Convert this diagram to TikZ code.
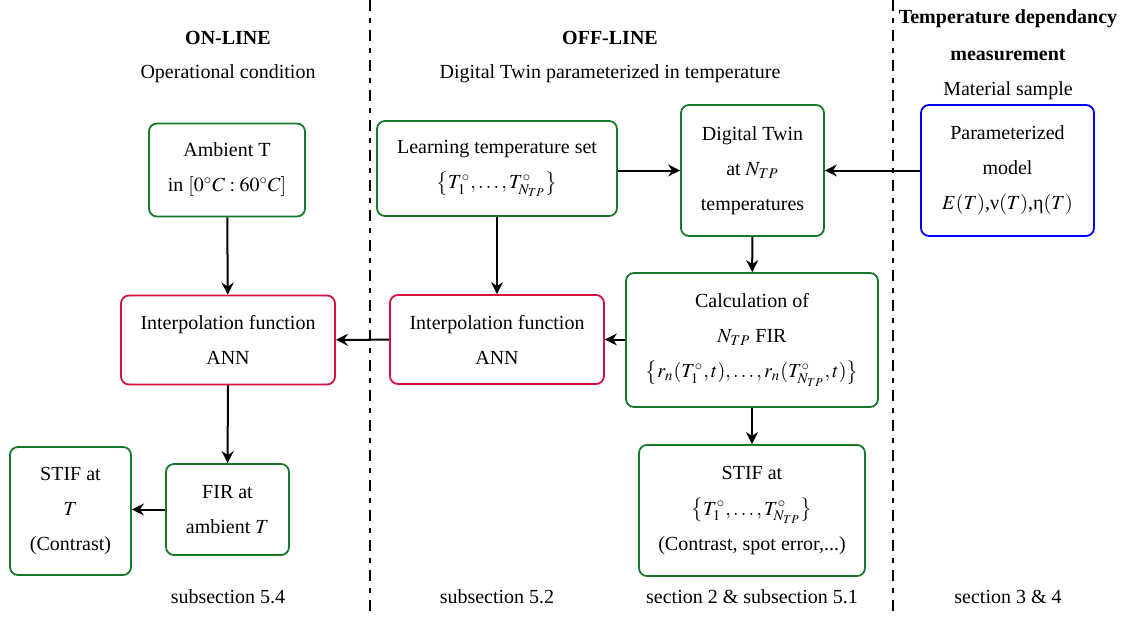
\documentclass[tikz,border=0pt]{standalone}
\usepackage{mathptmx}
\usepackage{fontspec}
\setmainfont{Liberation Serif}
\usepackage{tikz}
\usetikzlibrary{arrows.meta, positioning, calc}
\definecolor{boxgreen}{rgb}{0.08, 0.48, 0.16}
\definecolor{boxred}{rgb}{0.84, 0.06, 0.24}
\definecolor{boxblue}{rgb}{0, 0, 1}

\begin{document}
\begin{tikzpicture}[x=0.5pt, y=-0.5pt,
	every node/.style={font=\linespread{1.46}\selectfont, align=center},
	block/.style={draw, rounded corners=4pt, line width=0.9pt, inner sep=0pt},
	greenbox/.style={block, boxgreen, text=black},
	redbox/.style={block, boxred, text=black},
	bluebox/.style={block, boxblue, text=black},
	flow/.style={-{Stealth[length=6pt, width=6pt, inset=2pt]}, line width=1pt},
	sep/.style={line width=1pt, dash pattern=on 5.5pt off 3.5pt on 2.5pt off 3.5pt}]
	\useasboundingbox (0,0) rectangle (1124,617);
	
	% column separators
	\draw[sep] (370,0) -- (370,617);
	\draw[sep] (893,0) -- (893,617);
	
	% headers
	\node (hon) at (228,38) {\textbf{ON-LINE}};
	\node (hons) at (228,74) {Operational condition};
	\node (hoff) at (610,38) {\textbf{OFF-LINE}};
	\node (hoffs) at (610,74) {Digital Twin parameterized in temperature};
	\node (htd) at (1008,19) {\textbf{Temperature dependancy}};
	\node (htd2) at (1008,55) {\textbf{measurement}};
	\node (htds) at (1008,91) {Material sample};
	
	% on-line column
	\node[greenbox, minimum width=78pt, minimum height=46.5pt] (ambient) at (227,170) {Ambient T\\ in $[0^{\circ}C:60^{\circ}C]$};
	\node[redbox, minimum width=107pt, minimum height=44.5pt] (interpL) at (228,340) {Interpolation function\\ ANN};
	\node[greenbox, minimum width=61.5pt, minimum height=45.5pt] (firamb) at (227.5,509.5) {FIR at\\ ambient $T$};
	\node[greenbox, minimum width=60.5pt, minimum height=64pt] (stifL) at (70.5,511) {STIF at\\ $T$\\ (Contrast)};
	
	% off-line column
	\node[greenbox, minimum width=120pt, minimum height=47.5pt] (learn) at (497,168.5) {Learning temperature set\\ $\big\{T_1^{\circ},\ldots,T_{N_{TP}}^{\circ}\big\}$};
	\node[greenbox, minimum width=71.5pt, minimum height=65.5pt] (twin) at (752.5,170.5) {Digital Twin\\ at $N_{TP}$\\ temperatures};
	\node[redbox, minimum width=107pt, minimum height=44.5pt] (interpM) at (497,339.5) {Interpolation function\\ ANN};
	\node[greenbox, minimum width=126pt, minimum height=67pt] (calc) at (752,340) {Calculation of\\ $N_{TP}$ FIR\\ $\big\{r_n(T_1^{\circ},t),\ldots,r_n(T_{N_{TP}}^{\circ},t)\big\}$};
	\node[greenbox, minimum width=113pt, minimum height=65.5pt] (stifR) at (752,510.5) {STIF at\\ $\big\{T_1^{\circ},\ldots,T_{N_{TP}}^{\circ}\big\}$\\ (Contrast, spot error,...)};
	
	% measurement column
	\node[bluebox, minimum width=86.5pt, minimum height=65.5pt] (param) at (1007.5,170.5) {Parameterized\\ model\\ $E(T)$,ν$(T)$,η$(T)$};
	
	% footers
	\node (f1) at (228,597) {subsection 5.4};
	\node (f2) at (497,597) {subsection 5.2};
	\node (f3) at (752,597) {section 2 \& subsection 5.1};
	\node (f4) at (1008,597) {section 3 \& 4};
	
	% connectors
	\draw[flow] (ambient) -- (interpL);
	\draw[flow] (interpL) -- (firamb);
	\draw[flow] (firamb) -- (firamb -| stifL.east);
	\draw[flow] (learn.east |- twin) -- (twin.west);
	\draw[flow] (learn) -- (interpM);
	\draw[flow] (twin) -- (calc);
	\draw[flow] (calc.west |- interpM) -- (interpM.east);
	\draw[flow] (interpM) -- (interpL);
	\draw[flow] (param) -- (twin);
	\draw[flow] (calc) -- (stifR);
\end{tikzpicture}
\end{document}
